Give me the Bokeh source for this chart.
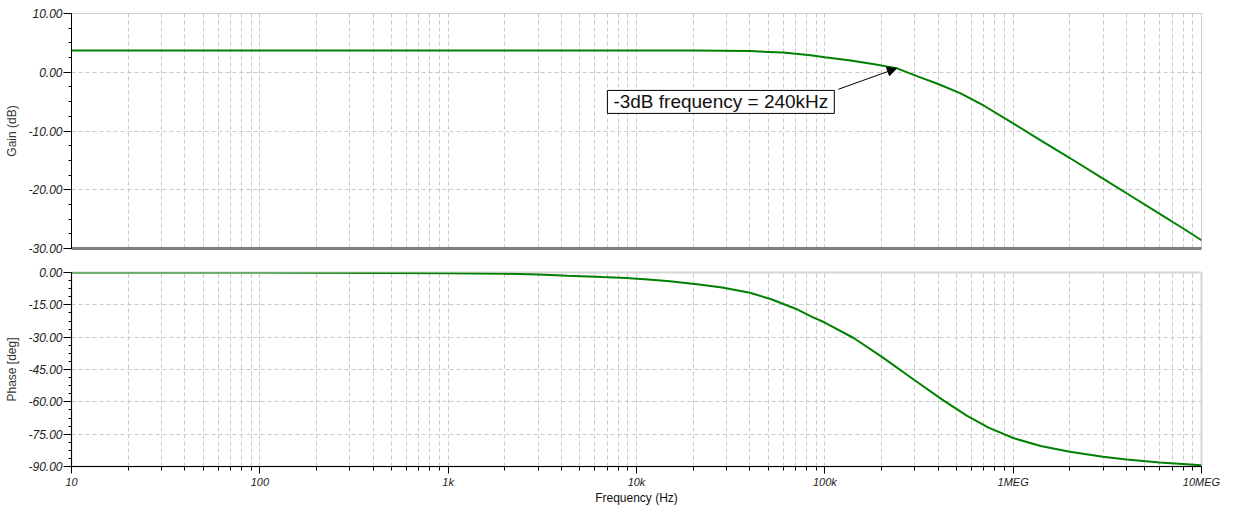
from bokeh.plotting import figure
from bokeh.models import Range1d, FixedTicker, PrintfTickFormatter, Label, Arrow, NormalHead
from bokeh.layouts import column
from bokeh.embed import file_html
from bokeh.resources import INLINE

# ---- data ----
gain_freq = [10, 100, 1000, 10000, 20000, 40000, 60000, 84000, 100000, 137000, 180000,
             240000, 311000, 400000, 526000, 700000, 1000000, 1400000, 2000000, 3000000,
             4000000, 6000000, 8000000, 10000000]
gain_db = [3.72, 3.72, 3.72, 3.71, 3.70, 3.60, 3.35, 2.90, 2.55, 2.00, 1.40,
           0.70, -0.70, -2.00, -3.60, -5.70, -8.70, -11.60, -14.60, -18.10,
           -20.60, -24.10, -26.60, -28.60]

phase_freq = [10, 100, 1000, 2000, 3000, 4300, 6600, 8800, 11500, 15000, 21500, 28500,
              40000, 51500, 70000, 86000, 100000, 143000, 200000, 300000, 420000, 570000,
              740000, 1000000, 1400000, 2000000, 3000000, 4000000, 6000000, 10000000]
phase_deg = [0.0, 0.0, -0.3, -0.6, -0.9, -1.5, -2.1, -2.5, -3.3, -4.1, -5.6, -7.0,
             -9.4, -12.3, -16.8, -20.7, -23.2, -30.5, -39.0, -50.0, -59.0, -66.5,
             -72.0, -76.8, -80.5, -83.2, -85.5, -86.7, -88.2, -89.4]

freq_ticks = [10, 100, 1000, 10000, 100000, 1000000, 10000000]
freq_labels = ["10", "100", "1k", "10k", "100k", "1MEG", "10MEG"]
gain_ticks = [10, 0, -10, -20, -30]
phase_ticks = [0, -15, -30, -45, -60, -75, -90]

note_text = "-3dB frequency = 240kHz"
f3db = 240000

# ---- styling ----
GREEN = "#008000"
GRID = "#c8c8c8"
TICK_TXT = "#222222"
FONT = "Liberation Sans"

freq_minor = [m * 10 ** e for e in range(1, 7) for m in range(2, 10)]
gain_minor = [gain_ticks[-1] + 2.5 * i for i in range(17)]
phase_minor = [phase_ticks[-1] + 3.75 * i for i in range(25)]

x_range = Range1d(10, 10000000)


def style(p, yticks, yminor, ylabel):
    p.yaxis.ticker = FixedTicker(ticks=yticks, minor_ticks=yminor)
    p.yaxis.formatter = PrintfTickFormatter(format="%.2f")
    p.yaxis.axis_label = ylabel
    p.yaxis.axis_label_text_font = FONT
    p.yaxis.axis_label_text_font_style = "normal"
    p.yaxis.axis_label_text_font_size = "12px"
    p.yaxis.axis_label_text_color = "#333333"
    p.yaxis.axis_label_standoff = 6
    p.yaxis.major_label_text_font = FONT
    p.yaxis.major_label_text_font_style = "italic"
    p.yaxis.major_label_text_font_size = "12px"
    p.yaxis.major_label_text_color = TICK_TXT
    p.yaxis.major_label_standoff = 1
    p.yaxis.major_tick_in = 0
    p.yaxis.major_tick_out = 8
    p.yaxis.minor_tick_in = 0
    p.yaxis.minor_tick_out = 3
    p.yaxis.axis_line_color = "black"
    p.yaxis.major_tick_line_color = "black"
    p.yaxis.minor_tick_line_color = "black"

    p.xgrid.ticker = FixedTicker(ticks=freq_ticks, minor_ticks=freq_minor)
    p.ygrid.ticker = FixedTicker(ticks=yticks)
    for g in (p.xgrid, p.ygrid):
        g.grid_line_color = GRID
        g.grid_line_dash = "4 3"
        g.grid_line_width = 1
    p.xgrid.minor_grid_line_color = GRID
    p.xgrid.minor_grid_line_dash = "4 3"
    p.xgrid.minor_grid_line_width = 1
    p.background_fill_color = "white"
    p.border_fill_color = "white"


# ---- top: gain ----
p1 = figure(width=1235, height=260, x_axis_type="log", x_range=x_range,
            y_range=Range1d(-30, 10), output_backend="svg", toolbar_location=None,
            min_border_left=71, min_border_right=34, min_border_top=13, min_border_bottom=12)
style(p1, gain_ticks, gain_minor, "Gain (dB)")
p1.outline_line_color = "#cccccc"
p1.outline_line_width = 1
p1.xaxis.ticker = FixedTicker(ticks=[], minor_ticks=[])
p1.xaxis.axis_line_color = "#808080"
p1.xaxis.axis_line_width = 3
p1.xaxis.major_tick_line_color = None
p1.xaxis.minor_tick_line_color = None
p1.line(gain_freq, gain_db, line_color=GREEN, line_width=2)

p1.add_layout(Label(x=28050, y=-5.05, text=note_text, text_align="center",
                    text_baseline="middle", text_font=FONT, text_font_size="19px",
                    text_color="#111111", background_fill_color="white",
                    border_line_color="black", border_line_width=1,
                    padding=dict(left=6, right=6, top=1, bottom=1)))
p1.add_layout(Arrow(end=NormalHead(size=9, fill_color="black", line_color="black"),
                    x_start=118000, y_start=-2.9, x_end=f3db, y_end=0.65,
                    line_color="black", line_width=1))

# ---- bottom: phase ----
p2 = figure(width=1235, height=248, x_axis_type="log", x_range=x_range,
            y_range=Range1d(-90, 0), output_backend="svg", toolbar_location=None,
            min_border_left=71, min_border_right=34, min_border_top=12, min_border_bottom=42)
style(p2, phase_ticks, phase_minor, "Phase [deg]")
p2.outline_line_color = "#d6d6d6"
p2.outline_line_width = 2
p2.xaxis.ticker = FixedTicker(ticks=freq_ticks, minor_ticks=freq_minor)
p2.xaxis.major_label_overrides = {t: l for t, l in zip(freq_ticks, freq_labels)}
p2.xaxis.axis_label = "Frequency (Hz)"
p2.xaxis.axis_label_text_font = FONT
p2.xaxis.axis_label_text_font_style = "normal"
p2.xaxis.axis_label_text_font_size = "12px"
p2.xaxis.axis_label_text_color = "#111111"
p2.xaxis.axis_label_standoff = 0
p2.xaxis.major_label_text_font = FONT
p2.xaxis.major_label_text_font_style = "italic"
p2.xaxis.major_label_text_font_size = "11px"
p2.xaxis.major_label_text_color = TICK_TXT
p2.xaxis.major_label_standoff = 2
p2.xaxis.major_tick_in = 0
p2.xaxis.major_tick_out = 7
p2.xaxis.minor_tick_in = 0
p2.xaxis.minor_tick_out = 4
p2.xaxis.axis_line_color = "black"
p2.xaxis.major_tick_line_color = "black"
p2.xaxis.minor_tick_line_color = "black"
p2.line(phase_freq, phase_deg, line_color=GREEN, line_width=2)

layout = column(p1, p2, spacing=0)
open("out.html", "w").write(file_html(layout, INLINE))
